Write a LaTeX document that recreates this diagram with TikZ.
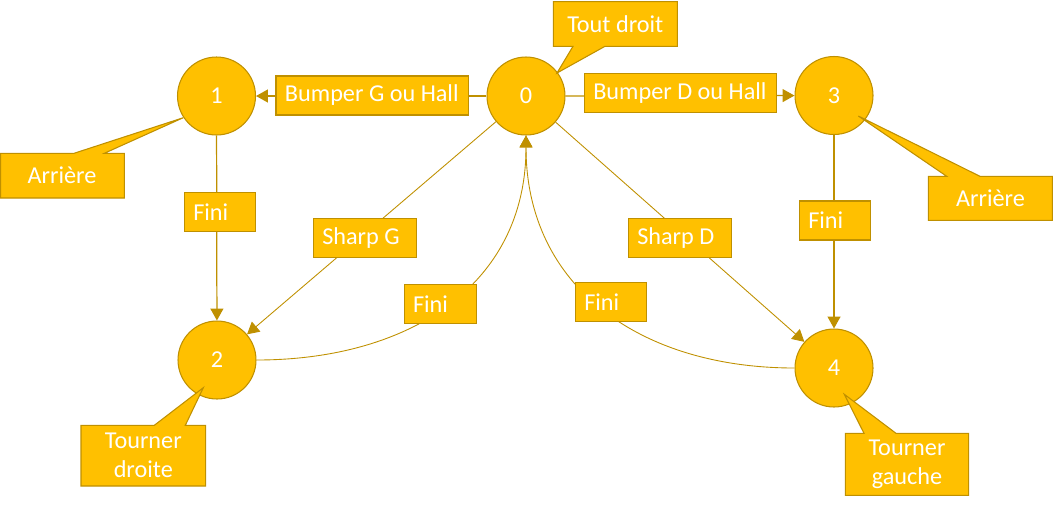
\documentclass[tikz,border=0pt]{standalone}
\usepackage{fontspec}
\setmainfont{Carlito}
\usetikzlibrary{arrows.meta}
\definecolor{gold}{HTML}{FFC000}
\definecolor{goldline}{HTML}{BF9000}
\tikzset{
  state/.style={circle, fill=gold, draw=goldline, line width=0.6pt, minimum size=1.56cm, inner sep=0pt, text=white, font=\fontsize{13.8}{16.5}\selectfont},
  lbl/.style={rectangle, fill=gold, draw=goldline, line width=0.6pt, minimum height=0.78cm, inner xsep=0.18cm, inner ysep=0pt, align=flush left, text width=#1, text=white, font=\fontsize{13.8}{16.5}\selectfont},
  ctext/.style={align=flush center, text=white, inner sep=0pt, font=\fontsize{13.8}{16.5}\selectfont},
  callout/.style={fill=gold, draw=goldline, line width=0.6pt, line join=miter},
  conn/.style={draw=goldline, line width=0.7pt, -{Triangle[length=6.8pt, width=7.4pt]}},
  curv/.style={draw=goldline, line width=0.5pt, -{Triangle[length=6.8pt, width=7.4pt]}}
}
\begin{document}
\begin{tikzpicture}[x=0.02cm, y=-0.02cm]
\useasboundingbox (0,0) rectangle (1053,511);
% state coordinates
\coordinate (p0) at (526,96);
\coordinate (p1) at (216.5,96);
\coordinate (p2) at (217,360);
\coordinate (p3) at (834,95.5);
\coordinate (p4) at (834,368);
% invisible placeholders for connector routing
\node[state, draw=none, fill=none] (n0) at (p0) {};
\node[state, draw=none, fill=none] (n1) at (p1) {};
\node[state, draw=none, fill=none] (n2) at (p2) {};
\node[state, draw=none, fill=none] (n3) at (p3) {};
\node[state, draw=none, fill=none] (n4) at (p4) {};
% connectors
\draw[conn] (n0) -- (n1);
\draw[conn] (n0) -- (n3);
\draw[conn] (n1) -- (n2);
\draw[conn] (n3) -- (n4);
\draw[conn, line width=0.5pt] (n0) -- (n2);
\draw[conn, line width=0.5pt] (n0) -- (n4);
\draw[curv] (n2.east) to[out=0, in=-90, looseness=1.1] (n0.south);
\draw[curv] (n4.west) to[out=180, in=-90, looseness=1.1] (n0.south);
% edge label boxes
\node[lbl=3.49cm] (bG) at (372.2,95.5) {Bumper G ou Hall};
\node[lbl=3.49cm] (bD) at (680.5,92.8) {Bumper D ou Hall};
\node[lbl=1.06cm] (f1) at (219.8,212) {Fini};
\node[lbl=1.71cm] (sG) at (365,237.8) {Sharp G};
\node[lbl=1.09cm] (f2) at (440.3,303.8) {Fini};
\node[lbl=1.07cm] (f4) at (611,301.8) {Fini};
\node[lbl=1.71cm] (sD) at (680,237.8) {Sharp D};
\node[lbl=1.07cm] (f3) at (835,220.5) {Fini};
% states
\node[state] (s0) at (p0) {0};
\node[state] (s1) at (p1) {1};
\node[state] (s2) at (p2) {2};
\node[state] (s3) at (p3) {3};
\node[state] (s4) at (p4) {4};
% callouts
\draw[callout] (553.3,1.7) -- (677.3,1.7) -- (677.3,46.3) -- (605,46.3) -- (557,73) -- (573,46.3) -- (553.3,46.3) -- cycle;
\node[ctext] (cTout) at (615.3,24) {Tout droit};
\draw[callout] (0.5,153.3) -- (74,153.3) -- (183.3,117.7) -- (104.3,153.3) -- (124.3,153.3) -- (124.3,198) -- (0.5,198) -- cycle;
\node[ctext] (cArL) at (62,175.6) {Arrière};
\draw[callout] (928.3,176.3) -- (946.7,176.3) -- (858.3,116) -- (980,176.3) -- (1052.5,176.3) -- (1052.5,220.3) -- (928.3,220.3) -- cycle;
\node[ctext] (cArR) at (990.5,198.3) {Arrière};
\draw[callout] (81,425.3) -- (154.3,425.3) -- (203.3,387.7) -- (185.3,425.3) -- (205.7,425.3) -- (205.7,486) -- (81,486) -- cycle;
\node[ctext] (cTD) at (143.3,455.6) {Tourner\\droite};
\draw[callout] (845.3,433.3) -- (864,433.3) -- (844.3,394.3) -- (896,433.3) -- (968.7,433.3) -- (968.7,495.3) -- (845.3,495.3) -- cycle;
\node[ctext] (cTG) at (907,464.3) {Tourner\\gauche};
\end{tikzpicture}
\end{document}
